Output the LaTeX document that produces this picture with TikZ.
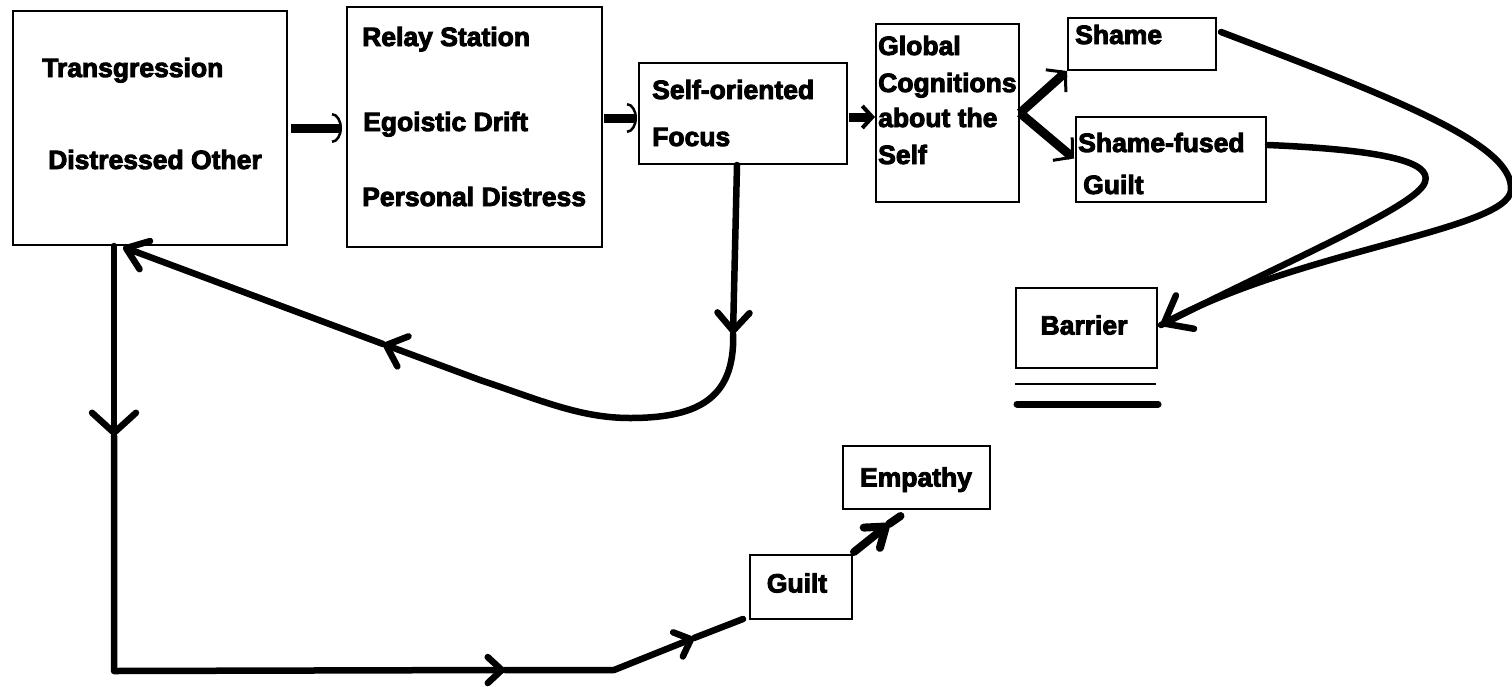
\documentclass[tikz,border=0pt]{standalone}
\usepackage{fontspec}
\setmainfont{Liberation Sans}[BoldFeatures={FakeBold=3.5}]
\usetikzlibrary{arrows.meta,calc}
\tikzset{
  bigvee/.tip={Straight Barb[length=20pt,width=44pt,round]},
  midvee/.tip={Straight Barb[length=18pt,width=32pt,round]},
  smvee/.tip={Straight Barb[length=14pt,width=26pt,round]},
  endvee/.tip={Straight Barb[length=24pt,width=38pt,round]},
  thinarc/.tip={Arc Barb[length=10pt,width=30pt,line width=2.5pt]},
  thinbarb/.tip={Straight Barb[length=13pt,width=30pt,line width=3pt]},
  box/.style={draw,line width=2pt,inner sep=0pt},
  lbl/.style={anchor=base west,inner sep=0pt,font=\fontsize{26.5}{30}\selectfont\bfseries},
  clbl/.style={anchor=base,inner sep=0pt,font=\fontsize{26.5}{30}\selectfont\bfseries},
  conn/.style={line width=6.5pt,line cap=round,line join=round},
  fat/.style={line width=9pt},
}
\begin{document}
\begin{tikzpicture}[x=1pt,y=-1pt]
\useasboundingbox (0,0) rectangle (1512,686);
% boxes
\node[box,minimum width=274pt,minimum height=234pt] (to) at (150,128) {};
\node[box,minimum width=255pt,minimum height=240pt] (rs) at (474.5,127) {};
\node[box,minimum width=208pt,minimum height=101pt] (sf) at (743,113.5) {};
\node[box,minimum width=143pt,minimum height=178pt] (gc) at (947.5,113) {};
\node[box,minimum width=148pt,minimum height=52pt] (sh) at (1142,44) {};
\node[box,minimum width=190pt,minimum height=85pt] (sfg) at (1171,159.5) {};
\node[box,minimum width=141pt,minimum height=80pt] (ba) at (1086.5,328) {};
\node[box,minimum width=147pt,minimum height=63pt] (em) at (916.5,477.5) {};
\node[box,minimum width=102pt,minimum height=64pt] (gu) at (801,587) {};
% labels
\node[lbl] (t1) at (42,77) {Transgression};
\node[lbl] (t2) at (48,169) {Distressed Other};
\node[lbl] (t3) at (362,46) {Relay Station};
\node[lbl] (t4) at (363,131) {Egoistic Drift};
\node[lbl] (t5) at (362,206) {Personal Distress};
\node[lbl] (t6) at (652,99) {Self-oriented};
\node[lbl] (t7) at (652,146) {Focus};
\node[lbl] (t8) at (878,55) {Global};
\node[lbl] (t9) at (878,92) {Cognitions};
\node[lbl] (t10) at (878,127) {about the};
\node[lbl] (t11) at (878,164) {Self};
\node[lbl] (t12) at (1075,44) {Shame};
\node[lbl] (t13) at (1078,152) {Shame-fused};
\node[lbl] (t14) at (1083,194) {Guilt};
\node[clbl] (t15) at (1084,334.5) {Barrier};
\node[clbl] (t16) at (916,486.5) {Empathy};
\node[clbl] (t17) at (797,592.5) {Guilt};
% barrier lines
\draw[line width=2.5pt] ($(ba.south west)+(0,15)$) -- ($(ba.south east)+(-2,15)$);
\draw[line width=7pt,line cap=round] ($(ba.south west)+(2,35)$) -- ($(ba.south east)+(0,35)$);
% top arrows
\draw[fat,-thinarc] ($(to.east)+(3,0)$) -- ($(rs.west)+(-4,1)$);
\draw[fat,-thinarc] ($(rs.east)+(1,-9)$) -- ($(sf.west)+(-1,4.5)$);
\draw[fat,-{Straight Barb[length=10pt,width=22pt,line width=4pt]}] ($(sf.east)+(1,3.5)$) -- ($(gc.west)+(0,4)$);
\draw[fat,-thinbarb] (gc.east) -- (sh.south west);
\draw[fat,-thinbarb] (gc.east) -- ($(sfg.west)+(-1,-1)$);
% curves to barrier
\coordinate (bt) at ($(ba.east)+(3,-3)$);
\draw[conn,-endvee] ($(sh.east)+(4,-12)$) .. controls (1400,100) and (1514,145) .. (1511,190)
   .. controls (1508,230) and (1300,250) .. (bt);
\draw[conn] ($(sfg.east)+(1,-14.5)$) .. controls (1385,150) and (1432,162) .. (1425,182)
   .. controls (1418,205) and (1300,255) .. (bt);
% return loop from self-oriented focus
\coordinate (ra) at ($(sf.south)+(-10,169)$);
\coordinate (rb) at (383,344);
\draw[conn,-midvee] ($(sf.south)+(-6,0)$) -- (ra);
\draw[conn,-midvee] (ra) -- ($(sf.south)+(-10,181)$) .. controls (730,400) and (695,418) .. (630,418)
   .. controls (580,418) and (540,400) .. (480,380) -- (rb);
\draw[conn,-{Straight Barb[length=20pt,width=30pt,round]}] (rb) -- ($(to.south)+(-27,1)$);
% path to guilt
\coordinate (la) at ($(to.south)+(-36,190)$);
\coordinate (lc) at ($(to.south)+(-36,425)$);
\coordinate (ld) at (505,670);
\coordinate (le) at (614,670);
\coordinate (lf) at (694,638);
\draw[conn,-bigvee] ($(to.south)+(-36,0)$) -- (la);
\draw[conn,-smvee] (la) -- (lc) -- (ld);
\draw[conn,-smvee] (ld) -- (le) -- (lf);
\draw[conn] (lf) -- ($(gu.south west)+(-6,-1)$);
% guilt to empathy
\coordinate (ge) at (889,524);
\draw[line width=8pt,line cap=round,-{Straight Barb[length=18pt,width=26pt,round]}] ($(gu.north east)+(1,-2)$) -- (ge);
\draw[line width=8pt,line cap=round] (ge) -- ($(em.south)+(-16,6)$);
\end{tikzpicture}
\end{document}
